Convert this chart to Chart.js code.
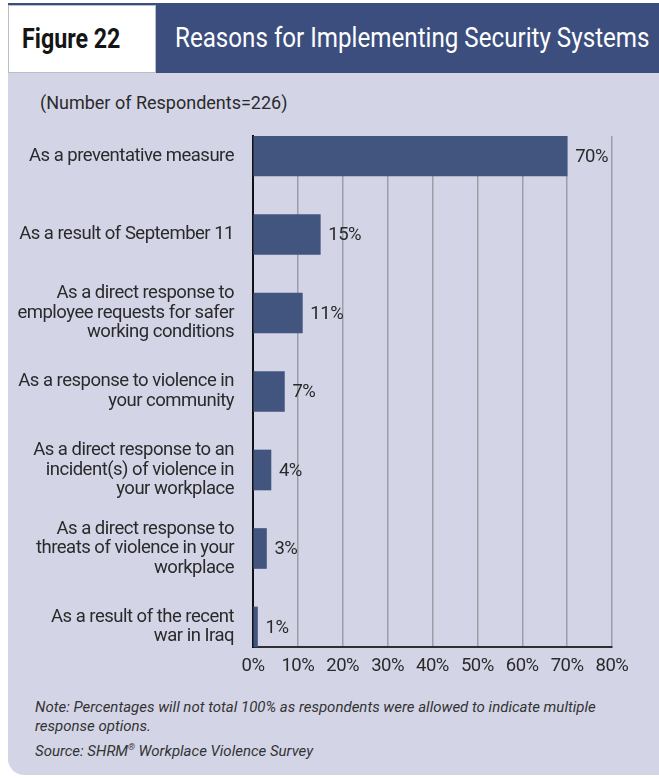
<!DOCTYPE html>
<html>
<head>
<meta charset="utf-8">
<script src="https://cdn.jsdelivr.net/npm/chart.js@4"></script>
<style>
  body { margin: 0; background: #fff; font-family: Roboto, sans-serif; }
  #page { position: relative; width: 659px; height: 779px; overflow: hidden; }
  .band { position: absolute; left: 8px; top: 3px; width: 651px; height: 70px; background: #3b4e7e; }
  .figbox { position: absolute; left: 8px; top: 5px; width: 148px; height: 68px; background: #fff;
            border: 1px solid #b9bccb; box-sizing: border-box; }
  .cond { display: inline-block; white-space: nowrap; transform: scaleX(0.86); transform-origin: 0 50%; }
  .figlabel { position: absolute; left: 22px; top: 5px; height: 68px; line-height: 68px;
              font-weight: bold; font-size: 27px; color: #151515; }
  .title { position: absolute; left: 175px; top: 3px; height: 70px; line-height: 70px; color: #fff; font-size: 27px; }
  .title .cond { transform: scaleX(0.895); }
  .panel { position: absolute; left: 8px; top: 73px; width: 651px; height: 702px; background: #d3d5e7;
           border-bottom-left-radius: 16px; }
  .sub { position: absolute; left: 40px; top: 92px; font-size: 18px; color: #2a2a2a; }
  .notes { position: absolute; left: 35px; top: 698px; font-size: 15px; font-style: italic; color: #333; line-height: 19px; }
  .notes div + div { margin-top: 2px; }
  #wrap { position: absolute; left: 0; top: 120px; width: 659px; height: 570px; }
</style>
</head>
<body>
<div id="page">
  <div class="band"></div>
  <div class="figbox"></div>
  <div class="figlabel"><span class="cond">Figure 22</span></div>
  <div class="title"><span class="cond">Reasons for Implementing Security Systems</span></div>
  <div class="panel"></div>
  <div class="sub">(Number of Respondents=226)</div>
  <div id="wrap"><canvas id="reasonsChart"></canvas></div>
  <div class="notes">
    <div>Note: Percentages will not total 100% as respondents were allowed to indicate multiple<br>response options.</div>
    <div>Source: SHRM<sup style="font-size:9px">®</sup> Workplace Violence Survey</div>
  </div>
</div>
<script>
// reasons, top to bottom
const reasons = [
  'As a preventative measure',
  'As a result of September 11',
  ['As a direct response to', 'employee requests for safer', 'working conditions'],
  ['As a response to violence in', 'your community'],
  ['As a direct response to an', 'incident(s) of violence in', 'your workplace'],
  ['As a direct response to', 'threats of violence in your', 'workplace'],
  ['As a result of the recent', 'war in Iraq']
];
const percents = [70, 15, 11, 7, 4, 3, 1];
const xTicks = [0, 10, 20, 30, 40, 50, 60, 70, 80];

const FONT = 'Roboto, sans-serif';
const FONT_SIZE = 18.5;
const barColor = '#41557f';

// tighter letter spacing so Roboto sits closer to the narrow report face
const tightText = {
  id: 'tightText',
  beforeLayout(chart) { chart.ctx.letterSpacing = '-0.5px'; },
  beforeDraw(chart) { chart.ctx.letterSpacing = '-0.5px'; }
};

// writes "NN%" just past the end of every bar
const valueLabels = {
  id: 'valueLabels',
  afterDatasetsDraw(chart) {
    const c = chart.ctx;
    const meta = chart.getDatasetMeta(0);
    c.save();
    c.font = FONT_SIZE + 'px ' + FONT;
    c.fillStyle = '#2a2a2a';
    c.textAlign = 'left';
    c.textBaseline = 'middle';
    meta.data.forEach((bar, i) => {
      c.fillText(percents[i] + '%', bar.x + 8, bar.y + 1);
    });
    c.restore();
  }
};

const ctx = document.getElementById('reasonsChart').getContext('2d');
new Chart(ctx, {
  type: 'bar',
  data: {
    datasets: [{
      data: percents.map((v, i) => ({ x: v, y: i })),
      backgroundColor: barColor,
      barThickness: 40
    }]
  },
  options: {
    indexAxis: 'y',
    responsive: true,
    maintainAspectRatio: false,
    animation: false,
    layout: { padding: { top: 16, right: 47, left: 0, bottom: 0 } },
    plugins: {
      legend: { display: false },
      tooltip: { enabled: false }
    },
    scales: {
      x: {
        type: 'linear',
        min: 0,
        max: 80,
        afterBuildTicks: (scale) => { scale.ticks = xTicks.map(v => ({ value: v })); },
        afterFit: (scale) => { scale.height = 43; scale.paddingLeft = 0; scale.paddingRight = 0; },
        grid: { color: '#9c9ea6', lineWidth: 1.5, drawTicks: false },
        border: { display: true, color: '#2f2f33', width: 2 },
        ticks: {
          padding: 8,
          color: '#2a2a2a',
          font: { family: FONT, size: FONT_SIZE },
          callback: (v) => v + '%'
        }
      },
      y: {
        type: 'linear',
        reverse: true,
        offset: false,
        min: -0.255,
        max: 6.255,
        afterFit: (scale) => { scale.width = 253; scale.paddingTop = 0; scale.paddingBottom = 0; },
        grid: { display: false, drawTicks: false },
        border: { display: true, color: '#111', width: 2 },
        ticks: {
          stepSize: 1,
          includeBounds: false,
          autoSkip: false,
          padding: 19,
          color: '#2a2a2a',
          font: { family: FONT, size: FONT_SIZE, lineHeight: 1.06 },
          callback: (v) => reasons[v]
        }
      }
    }
  },
  plugins: [tightText, valueLabels]
});
</script>
</body>
</html>
